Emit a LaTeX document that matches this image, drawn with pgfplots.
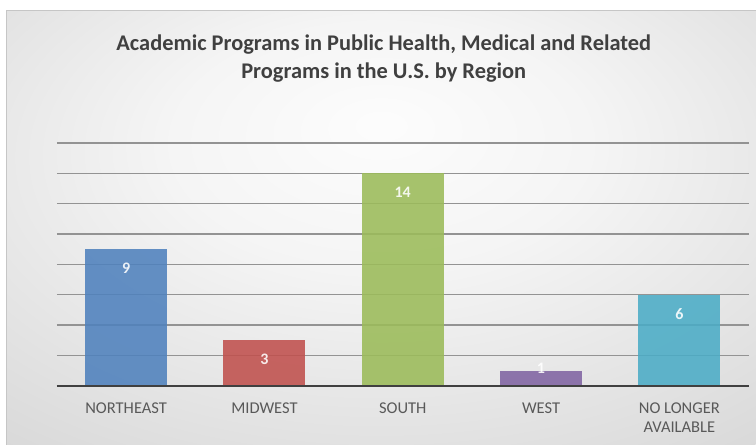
\documentclass[border=0pt]{standalone}
\usepackage{fontspec}
\setmainfont{Carlito}
\usepackage{pgfplots}
\pgfplotsset{compat=1.18}
\definecolor{cBlue}{HTML}{4F81BD}
\definecolor{cRed}{HTML}{C0504D}
\definecolor{cGreen}{HTML}{9BBB59}
\definecolor{cPurple}{HTML}{8064A2}
\definecolor{cAqua}{HTML}{4BACC6}
\definecolor{tickgray}{HTML}{595959}
\definecolor{titlegray}{HTML}{404040}
\pgfdeclareradialshading{bgshade}{\pgfpoint{0bp}{12bp}}{%
  color(0bp)=(white!99!black); color(14bp)=(white!96!black);
  color(40bp)=(white!85!black); color(75bp)=(white!74!black)}
\tikzset{
  bar/.style={fill=#1, fill opacity=0.88, draw=none},
  lab/.style={font=\fontsize{16}{18}\selectfont\bfseries, text=white},
}
\begin{document}
\begin{tikzpicture}[x=1pt, y=1pt]
% page and chart frame
\fill[white] (0,0) rectangle (756,445);
\shade[shading=bgshade] (7,0) rectangle (756,434);
\draw[gray!45, line width=1pt] (7,0) -- (7,434) -- (756,434);
\node[font=\fontsize{22.4}{28}\selectfont\bfseries, text=titlegray, align=center]
  at (384,386) {Academic Programs in Public Health, Medical and Related\\Programs in the U.S. by Region};
\begin{axis}[
  at={(57pt,59pt)}, anchor=south west,
  width=692pt, height=243pt, scale only axis,
  xmin=-0.5, xmax=4.5, ymin=0, ymax=16,
  ybar, bar width=82pt, bar shift=0pt,
  axis line style={draw=none},
  ytick={0,2,...,16}, yticklabels={},
  ymajorgrids, grid style={gray!85!white, line width=1.3pt},
  major tick length=0pt,
  xtick={0,1,2,3,4},
  xticklabels={NORTHEAST, MIDWEST, SOUTH, WEST, {NO LONGER\\AVAILABLE}},
  xticklabel style={font=\fontsize{16.5}{19}\selectfont, text=tickgray,
                    align=center, anchor=north, yshift=-14pt},
  nodes near coords, point meta=y,
  /pgf/number format/assume math mode=true,
  every node near coord/.append style={lab, anchor=center, yshift=-19.5pt},
  clip=false,
]
\addplot[bar=cBlue]   coordinates {(0,9)};
\addplot[bar=cRed]    coordinates {(1,3)};
\addplot[bar=cGreen]  coordinates {(2,14)};
\addplot[bar=cPurple, every node near coord/.append style={yshift=21.5pt}] coordinates {(3,1)};
\addplot[bar=cAqua]   coordinates {(4,6)};
\draw[black!75, line width=2pt] (axis cs:-0.5,0) -- (axis cs:4.5,0);
\end{axis}
\end{tikzpicture}
\end{document}
